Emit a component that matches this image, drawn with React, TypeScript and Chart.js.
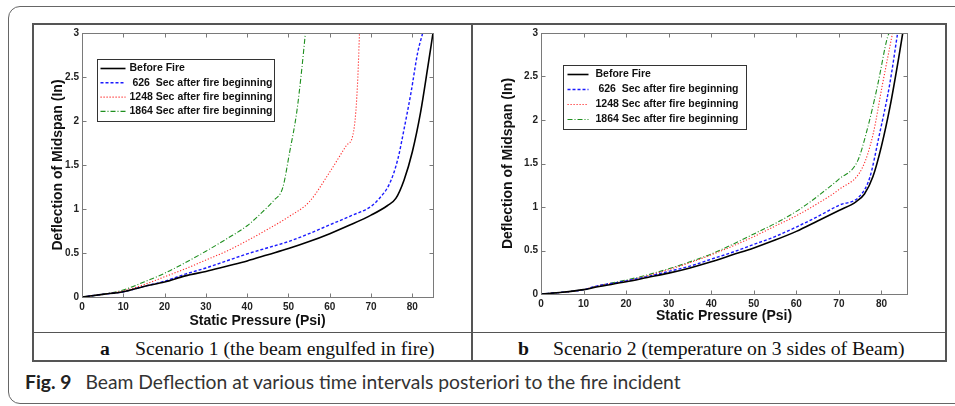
import React, { useEffect, useRef } from "react";
import { Chart, registerables } from "chart.js";

Chart.register(...registerables);

// ---------- shared text ----------
const seriesLabels = [
  "Before Fire",
  " 626  Sec after fire beginning",
  "1248 Sec after fire beginning",
  "1864 Sec after fire beginning",
];
const xTickValues = [0, 10, 20, 30, 40, 50, 60, 70, 80];
const yTickValues = [0, 0.5, 1, 1.5, 2, 2.5, 3];
const xAxisTitle = "Static Pressure (Psi)";
const yAxisTitle = "Deflection of Midspan (In)";
const captionA = ["a", "Scenario 1 (the beam engulfed in fire)"];
const captionB = ["b", "Scenario 2 (temperature on 3 sides of Beam)"];
const figLabel = "Fig. 9";
const figText = "Beam Deflection at various time intervals posteriori to the fire incident";

// ---------- Scenario 1 (pressure psi, deflection in) ----------
const s1BeforeP = [0, 5, 10, 15, 20, 25, 30, 35, 40, 45, 50, 55, 60, 65, 70, 74, 76, 78, 80, 82, 83.7, 85];
const s1BeforeD = [0, 0.03, 0.06, 0.12, 0.17, 0.24, 0.29, 0.35, 0.41, 0.48, 0.55, 0.63, 0.72, 0.82, 0.93, 1.04, 1.12, 1.33, 1.65, 2.1, 2.6, 3.0];
const s1Sec626P = [0, 5, 10, 15, 20, 25, 30, 35, 40, 45, 50, 55, 60, 65, 70, 72, 74.5, 76.5, 78, 79.7, 81.3, 82.5];
const s1Sec626D = [0, 0.03, 0.06, 0.12, 0.18, 0.26, 0.33, 0.41, 0.49, 0.56, 0.63, 0.72, 0.82, 0.92, 1.03, 1.12, 1.29, 1.57, 1.91, 2.33, 2.78, 3.0];
const s1Sec1248P = [0, 5, 10, 15, 20, 25, 30, 35, 40, 45, 50, 55, 60, 64, 65.6, 66.3, 66.8, 67.2];
const s1Sec1248D = [0, 0.03, 0.07, 0.14, 0.23, 0.32, 0.42, 0.52, 0.64, 0.77, 0.91, 1.08, 1.42, 1.72, 1.84, 2.1, 2.5, 3.0];
const s1Sec1864P = [0, 5, 10, 15, 20, 25, 30, 35, 40, 44, 46.5, 48.6, 50.3, 52, 53.2, 54.1];
const s1Sec1864D = [0, 0.03, 0.08, 0.17, 0.27, 0.39, 0.52, 0.66, 0.81, 0.98, 1.1, 1.24, 1.65, 2.1, 2.58, 3.0];

// ---------- Scenario 2 ----------
const s2BeforeP = [0, 5, 10, 13, 20, 25, 30, 35, 40, 45, 50, 55, 60, 65, 70, 74, 76, 78, 80, 82, 84, 85];
const s2BeforeD = [0, 0.02, 0.05, 0.08, 0.14, 0.19, 0.24, 0.3, 0.37, 0.45, 0.53, 0.62, 0.72, 0.84, 0.96, 1.06, 1.15, 1.35, 1.7, 2.15, 2.7, 3.0];
const s2Sec626P = [0, 5, 10, 13, 20, 25, 30, 35, 40, 45, 50, 55, 60, 65, 70, 74.8, 77.2, 79.5, 81.9, 83.8];
const s2Sec626D = [0, 0.02, 0.05, 0.09, 0.15, 0.2, 0.26, 0.32, 0.4, 0.48, 0.57, 0.66, 0.77, 0.89, 1.02, 1.12, 1.33, 1.83, 2.4, 3.0];
const s2Sec1248P = [0, 5, 10, 13, 20, 25, 30, 35, 40, 45, 50, 55, 60, 65, 70, 75.5, 78, 80.2, 82.6];
const s2Sec1248D = [0, 0.02, 0.05, 0.09, 0.15, 0.21, 0.28, 0.36, 0.45, 0.55, 0.66, 0.78, 0.9, 1.04, 1.2, 1.45, 1.83, 2.4, 3.0];
const s2Sec1864P = [0, 5, 10, 13, 20, 25, 30, 35, 40, 45, 50, 55, 60, 63, 67, 70, 74.4, 76.7, 79.1, 81.4, 81.8];
const s2Sec1864D = [0, 0.02, 0.05, 0.09, 0.16, 0.22, 0.29, 0.37, 0.46, 0.57, 0.69, 0.81, 0.95, 1.05, 1.2, 1.32, 1.53, 1.9, 2.4, 2.95, 3.0];

// ---------- styles ----------
const seriesColors = ["#000000", "#1a1aff", "#ff2a2a", "#1f8f1f"];
const seriesDashes = [[], [3, 2], [1.2, 1.8], [5, 2, 1, 2]];
const seriesWidths = [1.6, 1.4, 1.1, 1.1];
const SANS = "'Liberation Sans', Arial, Helvetica, sans-serif";
const SERIF = "'Liberation Serif', 'Times New Roman', serif";

const pts = (xs: number[], ys: number[]) => xs.map((x, i) => ({ x, y: ys[i] }));

const framePlugin = {
  id: "frame",
  afterDatasetsDraw(chart: any, _args: any, opts: any) {
    const { ctx, chartArea: ca, scales } = chart;
    const xs = scales.x;
    const ys = scales.y;
    ctx.save();
    ctx.strokeStyle = "#7a7a7a";
    ctx.lineWidth = 1;
    ctx.setLineDash([]);
    const L = Math.round(ca.left) + 0.5;
    const R = Math.round(ca.right) + 0.5;
    const T = Math.round(ca.top) + 0.5;
    const B = Math.round(ca.bottom) + 0.5;
    ctx.strokeRect(L, T, R - L, B - T);
    const tl = 4;
    ctx.beginPath();
    for (const t of xs.ticks) {
      const px = Math.round(xs.getPixelForValue(t.value)) + 0.5;
      ctx.moveTo(px, B);
      ctx.lineTo(px, B - tl);
      ctx.moveTo(px, T);
      ctx.lineTo(px, T + tl);
    }
    for (const t of ys.ticks) {
      const py = Math.round(ys.getPixelForValue(t.value)) + 0.5;
      ctx.moveTo(L, py);
      ctx.lineTo(L + tl, py);
      ctx.moveTo(R, py);
      ctx.lineTo(R - tl, py);
    }
    ctx.stroke();

    // legend box
    const lg = opts.legend;
    const bx = Math.round(ca.left + lg.dx) + 0.5;
    const by = Math.round(ca.top + lg.dy) + 0.5;
    ctx.fillStyle = "#ffffff";
    ctx.fillRect(bx, by, lg.w, lg.h);
    ctx.strokeStyle = "#333333";
    ctx.lineWidth = 1;
    ctx.strokeRect(bx, by, lg.w, lg.h);
    chart.data.datasets.forEach((ds: any, i: number) => {
      const yy = by + lg.first + i * lg.step;
      ctx.strokeStyle = ds.borderColor;
      ctx.lineWidth = ds.borderWidth;
      ctx.setLineDash(ds.borderDash || []);
      ctx.beginPath();
      ctx.moveTo(bx + lg.lx0, yy);
      ctx.lineTo(bx + lg.lx1, yy);
      ctx.stroke();
      ctx.setLineDash([]);
      ctx.fillStyle = "#111111";
      ctx.font = `bold 10.5px ${SANS}`;
      ctx.textBaseline = "middle";
      ctx.textAlign = "left";
      ctx.fillText(ds.label, bx + lg.tx, yy);
    });
    ctx.restore();
  },
};

type PanelCfg = {
  left: number;
  top: number;
  w: number;
  h: number;
  area: { left: number; top: number; right: number; bottom: number };
  xMax: number;
  xTitlePad: number;
  yTitlePad: number;
  legend: any;
  series: [number[], number[]][];
};

function ChartPanel({ cfg }: { cfg: PanelCfg }) {
  const ref = useRef<HTMLCanvasElement>(null);
  useEffect(() => {
    const tickFont = { family: SANS, size: 10, weight: "bold" as const };
    const titleFont = { family: SANS, size: 14, weight: "bold" as const };
    const chart = new Chart(ref.current as HTMLCanvasElement, {
      type: "line",
      data: {
        datasets: cfg.series.map((s, i) => ({
          label: seriesLabels[i],
          data: pts(s[0], s[1]),
          borderColor: seriesColors[i],
          borderWidth: seriesWidths[i],
          borderDash: seriesDashes[i],
          pointRadius: 0,
          fill: false,
          cubicInterpolationMode: "monotone" as const,
        })),
      },
      options: {
        responsive: false,
        animation: false,
        devicePixelRatio: 1,
        layout: {
          padding: { top: cfg.area.top, right: cfg.w - cfg.area.right, left: 0, bottom: 0 },
        },
        plugins: {
          legend: { display: false },
          tooltip: { enabled: false },
          frame: { legend: cfg.legend },
        } as any,
        scales: {
          x: {
            type: "linear",
            min: 0,
            max: cfg.xMax,
            grid: { display: false, drawTicks: false },
            border: { display: false },
            afterBuildTicks: (s: any) => {
              s.ticks = xTickValues.map((v) => ({ value: v }));
            },
            afterFit: (s: any) => {
              s.height = cfg.h - cfg.area.bottom;
            },
            ticks: {
              padding: 4,
              color: "#222",
              font: tickFont,
              maxRotation: 0,
              autoSkip: false,
              callback: (v: any) => String(v),
            },
            title: {
              display: true,
              text: xAxisTitle,
              color: "#111",
              font: titleFont,
              padding: { top: 0, bottom: cfg.xTitlePad },
            },
          },
          y: {
            type: "linear",
            min: 0,
            max: 3,
            grid: { display: false, drawTicks: false },
            border: { display: false },
            afterBuildTicks: (s: any) => {
              s.ticks = yTickValues.map((v) => ({ value: v }));
            },
            afterFit: (s: any) => {
              s.width = cfg.area.left;
            },
            ticks: {
              padding: 3,
              color: "#222",
              font: tickFont,
              autoSkip: false,
              callback: (v: any) => String(v),
            },
            title: {
              display: true,
              text: yAxisTitle,
              color: "#111",
              font: titleFont,
              padding: { top: cfg.yTitlePad, bottom: 0 },
            },
          },
        },
      },
      plugins: [framePlugin],
    });
    return () => chart.destroy();
  }, []);
  return (
    <canvas
      ref={ref}
      width={cfg.w}
      height={cfg.h}
      style={{ position: "absolute", left: cfg.left, top: cfg.top, width: cfg.w, height: cfg.h }}
    />
  );
}

const panelA: PanelCfg = {
  left: 34,
  top: 24,
  w: 436,
  h: 308,
  area: { left: 48, top: 6, right: 399, bottom: 273 },
  xMax: 85,
  xTitlePad: 2,
  yTitlePad: 16,
  legend: { dx: 15, dy: 26, w: 177, h: 62, first: 9, step: 14.3, lx0: 3, lx1: 28, tx: 32 },
  series: [
    [s1BeforeP, s1BeforeD],
    [s1Sec626P, s1Sec626D],
    [s1Sec1248P, s1Sec1248D],
    [s1Sec1864P, s1Sec1864D],
  ],
};

const panelB: PanelCfg = {
  left: 474,
  top: 24,
  w: 470,
  h: 308,
  area: { left: 67, top: 7, right: 433, bottom: 270 },
  xMax: 86,
  xTitlePad: 7,
  yTitlePad: 26,
  legend: { dx: 22, dy: 32, w: 183, h: 64, first: 9, step: 15, lx0: 4, lx1: 25, tx: 32 },
  series: [
    [s2BeforeP, s2BeforeD],
    [s2Sec626P, s2Sec626D],
    [s2Sec1248P, s2Sec1248D],
    [s2Sec1864P, s2Sec1864D],
  ],
};

const abs = (o: React.CSSProperties): React.CSSProperties => ({ position: "absolute", boxSizing: "border-box", ...o });

export default function App() {
  const capStyle: React.CSSProperties = {
    fontFamily: SERIF,
    fontSize: 19.7,
    lineHeight: "22px",
    color: "#111",
    whiteSpace: "nowrap",
  };
  return (
    <div style={abs({ left: 0, top: 0, width: 955, height: 406, background: "#fff", overflow: "hidden" })}>
      {/* outer rounded frame */}
      <div style={abs({ left: 8, top: 6, width: 990, height: 398, border: "1.5px solid #666", borderRadius: 12 })} />
      {/* panel boxes */}
      <div style={abs({ left: 32, top: 23, width: 441, height: 339, border: "2px solid #555" })} />
      <div style={abs({ left: 471, top: 23, width: 476, height: 339, border: "2px solid #555" })} />
      <div style={abs({ left: 33, top: 332, width: 912, height: 0, borderTop: "1.5px solid #555" })} />

      <ChartPanel cfg={panelA} />
      <ChartPanel cfg={panelB} />

      {/* sub captions */}
      <div style={abs({ ...capStyle, left: 100, top: 337, fontWeight: "bold" })}>{captionA[0]}</div>
      <div style={abs({ ...capStyle, left: 135, top: 337 })}>{captionA[1]}</div>
      <div style={abs({ ...capStyle, left: 518, top: 337, fontWeight: "bold" })}>{captionB[0]}</div>
      <div style={abs({ ...capStyle, left: 553, top: 337 })}>{captionB[1]}</div>

      {/* figure caption */}
      <div
        style={abs({
          left: 25,
          top: 370,
          fontFamily: "Lato, 'Open Sans', sans-serif",
          fontSize: 19.3,
          lineHeight: "24px",
          color: "#333",
          whiteSpace: "nowrap",
        })}
      >
        <span style={{ fontWeight: "bold", color: "#222" }}>{figLabel}</span>
        <span style={{ marginLeft: 14 }}>{figText}</span>
      </div>
    </div>
  );
}
